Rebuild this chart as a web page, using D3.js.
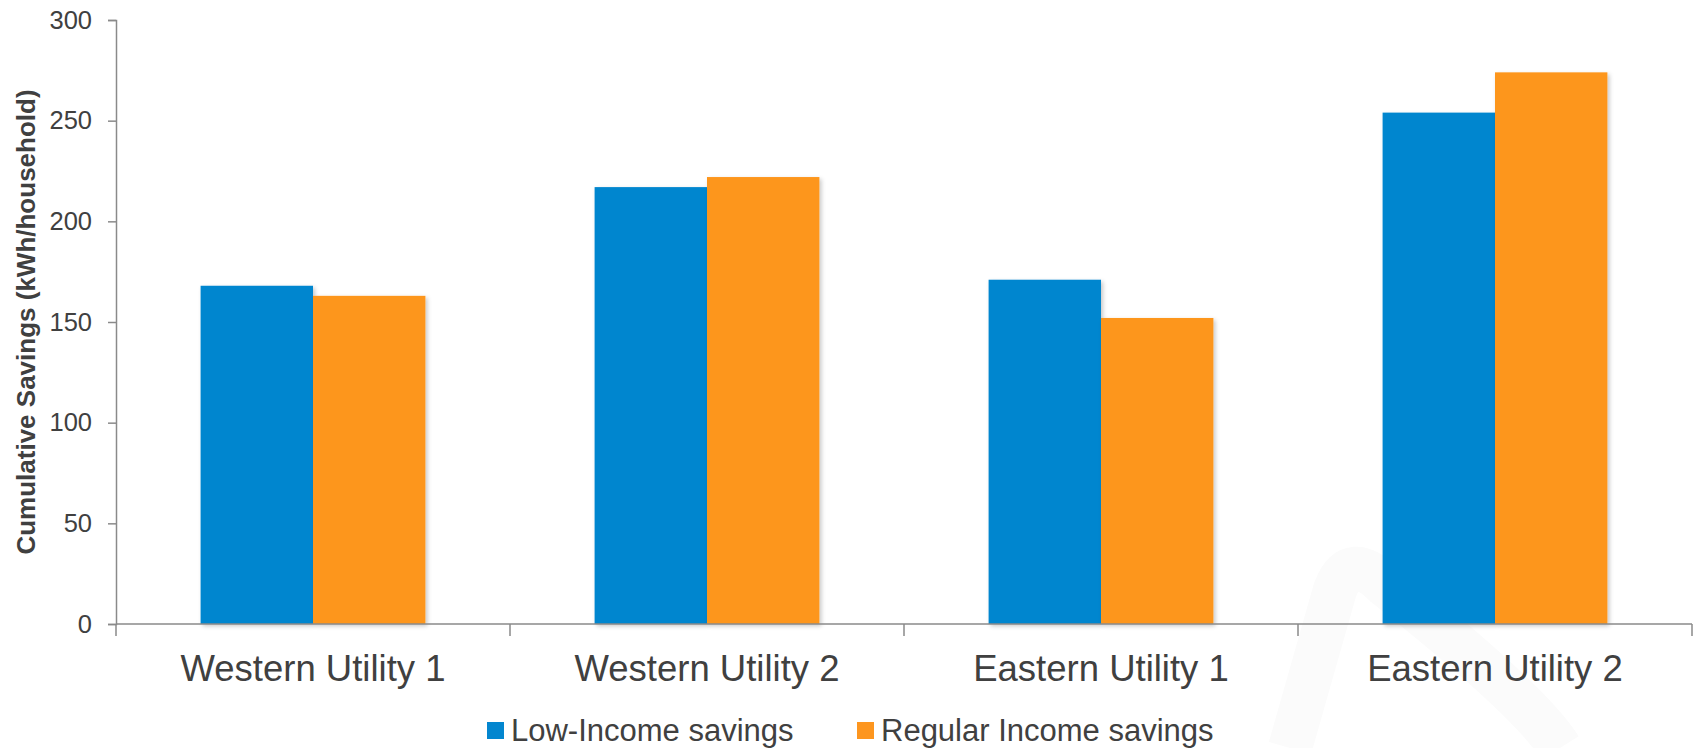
<!DOCTYPE html>
<meta charset="utf-8">
<head>
    <title>Cumulative Savings</title>
    <style>
        body { margin: 0; background: #fff; }
        svg { display: block; font-family: Arial, "Liberation Sans", sans-serif; }
    </style>
</head>
<body>
<svg width="1696" height="748"></svg>
<script src="https://cdn.jsdelivr.net/npm/d3@7"></script>
<script>

    // chart data
    var categories = ["Western Utility 1", "Western Utility 2", "Eastern Utility 1", "Eastern Utility 2"];
    var seriesNames = ["Low-Income savings", "Regular Income savings"];
    var lowIncome = [168, 217, 171, 254];
    var regularIncome = [163, 222, 152, 274];
    var yTicks = [0, 50, 100, 150, 200, 250, 300];
    var colors = ["#0386cf", "#fd961f"];

    var svg = d3.select("svg"),
            width = +svg.attr("width"),
            height = +svg.attr("height");

    var plot = {left: 116, right: 1692, top: 20, bottom: 624};

    //faint watermark in the corner
    svg.append("path")
            .attr("d", "M1290,748 L1335,590 Q1350,550 1385,585 Q1530,700 1560,748")
            .attr("fill", "none")
            .attr("stroke", "#fbfbfb")
            .attr("stroke-width", 44);

    //drop shadow for the bars
    var defs = svg.append("defs");
    defs.append("filter")
            .attr("id", "shadow")
            .attr("x", "-10%").attr("y", "-10%")
            .attr("width", "130%").attr("height", "130%")
            .append("feDropShadow")
            .attr("dx", 2).attr("dy", 2)
            .attr("stdDeviation", 2)
            .attr("flood-color", "#000")
            .attr("flood-opacity", 0.22);

    var x0 = d3.scaleBand()
            .domain(categories)
            .range([plot.left, plot.right])
            .padding(0);

    var x1 = d3.scaleBand()
            .domain(seriesNames)
            .range([84.6, x0.bandwidth() - 84.6])
            .padding(0);

    var y = d3.scaleLinear()
            .domain([0, 300])
            .range([plot.bottom, plot.top]);

    var rows = categories.map(function (c, i) {
        return {cat: c, values: [lowIncome[i], regularIncome[i]]};
    });

    //bars
    var groups = svg.append("g")
            .selectAll("g")
            .data(rows)
            .enter().append("g")
            .attr("transform", function (d) { return "translate(" + x0(d.cat) + ",0)"; });

    groups.selectAll("rect")
            .data(function (d) {
                return d.values.map(function (v, i) { return {name: seriesNames[i], value: v, i: i}; });
            })
            .enter().append("rect")
            .attr("x", function (d) { return x1(d.name); })
            .attr("width", x1.bandwidth())
            .attr("y", function (d) { return y(d.value); })
            .attr("height", function (d) { return y(0) - y(d.value); })
            .attr("fill", function (d) { return colors[d.i]; })
            .attr("filter", "url(#shadow)");

    //y axis
    var yAxis = svg.append("g")
            .attr("transform", "translate(" + plot.left + ",0)")
            .call(d3.axisLeft(y).tickValues(yTicks).tickSize(8).tickSizeOuter(8).tickPadding(16));
    yAxis.select(".domain").attr("stroke", "#8a8a8a").attr("stroke-width", 1.5);
    yAxis.selectAll(".tick line").attr("stroke", "#8a8a8a").attr("stroke-width", 1.5);
    yAxis.selectAll(".tick text")
            .attr("fill", "#404040")
            .style("font-size", "25.5px")
            .style("font-family", "Arial, 'Liberation Sans', sans-serif");

    //x axis, ticks at the category boundaries
    var xAxis = svg.append("g")
            .attr("transform", "translate(0," + plot.bottom + ")");
    xAxis.append("line")
            .attr("x1", plot.left).attr("x2", plot.right)
            .attr("stroke", "#8a8a8a").attr("stroke-width", 1.5);
    var bounds = categories.map(function (c) { return x0(c); }).concat([plot.right]);
    xAxis.selectAll("line.tk")
            .data(bounds)
            .enter().append("line")
            .attr("class", "tk")
            .attr("x1", function (d) { return d; })
            .attr("x2", function (d) { return d; })
            .attr("y1", 0).attr("y2", 12)
            .attr("stroke", "#8a8a8a").attr("stroke-width", 1.5);
    xAxis.selectAll("text")
            .data(categories)
            .enter().append("text")
            .attr("x", function (d) { return x0(d) + x0.bandwidth() / 2; })
            .attr("y", 57)
            .attr("text-anchor", "middle")
            .attr("fill", "#404040")
            .style("font-size", "36.5px")
            .text(function (d) { return d; });

    //y axis title
    svg.append("text")
            .attr("transform", "translate(35," + ((plot.top + plot.bottom) / 2) + ") rotate(-90)")
            .attr("text-anchor", "middle")
            .attr("fill", "#404040")
            .style("font-size", "26px")
            .style("font-weight", "bold")
            .text("Cumulative Savings (kWh/household)");

    //legend
    var legendX = [487, 857];
    var legend = svg.append("g")
            .selectAll("g")
            .data(seriesNames)
            .enter().append("g")
            .attr("transform", function (d, i) { return "translate(" + legendX[i] + ",0)"; });
    legend.append("rect")
            .attr("y", 722)
            .attr("width", 17).attr("height", 17)
            .attr("fill", function (d, i) { return colors[i]; });
    legend.append("text")
            .attr("x", 24)
            .attr("y", 741)
            .attr("fill", "#404040")
            .style("font-size", "31px")
            .text(function (d) { return d; });

</script>
</body>
